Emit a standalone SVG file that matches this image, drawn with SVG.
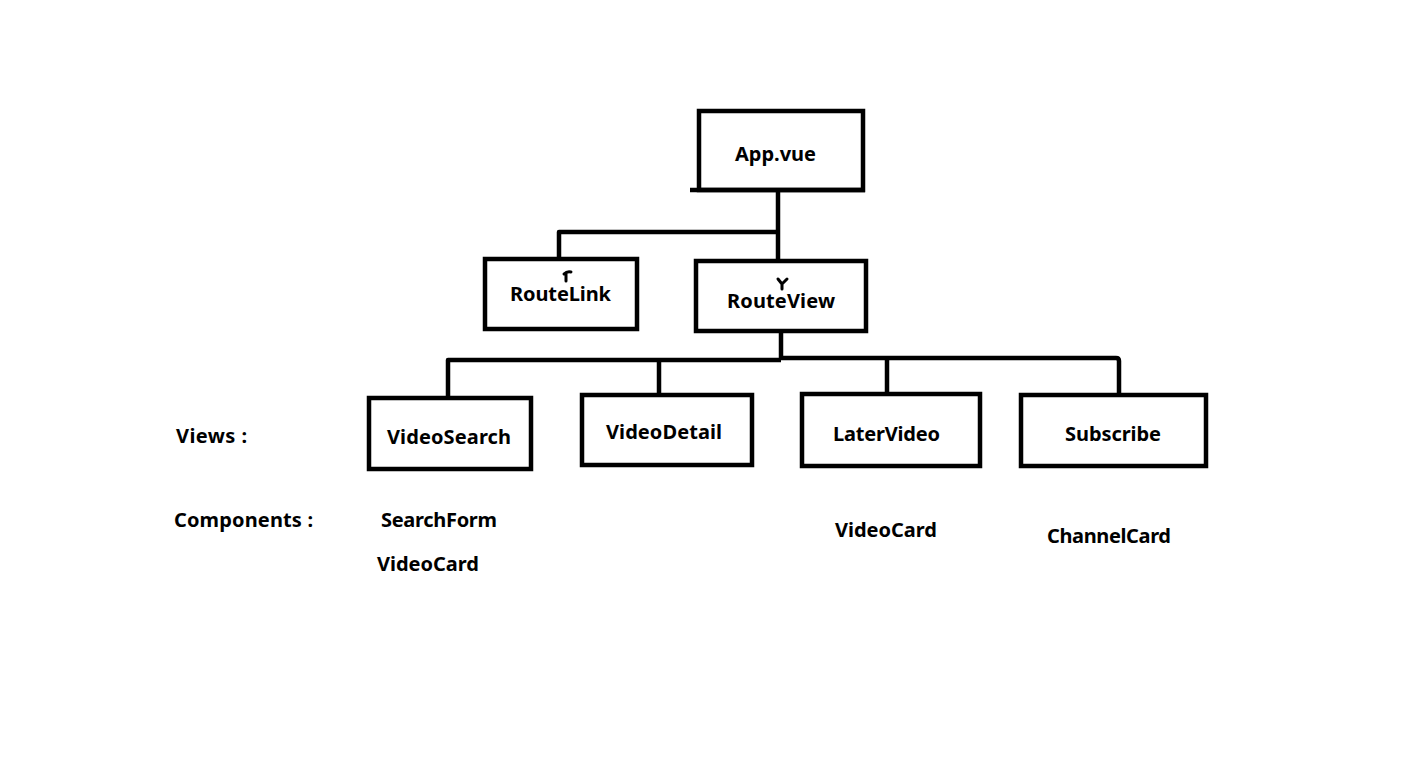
<svg xmlns="http://www.w3.org/2000/svg" width="1406" height="778" viewBox="0 0 1406 778">
<style>
.box{fill:none;stroke:#000;stroke-width:4.5}
.ln{fill:none;stroke:#000;stroke-width:4.5;stroke-linejoin:round}
.mk{fill:none;stroke:#000;stroke-width:3;stroke-linecap:round;stroke-linejoin:round}
text{font-family:"Noto Sans","Open Sans","DejaVu Sans",sans-serif;font-weight:bold;font-size:20px;fill:#000}
</style>
<rect width="1406" height="778" fill="#fff"/>
<g id="connectors">
<path class="ln" d="M778,191 V259"/>
<path class="ln" d="M778,232 H559 V257"/>
<path class="ln" d="M781,333 V358"/>
<path class="ln" d="M448,396 V360 H781"/>
<path class="ln" d="M781,358 H1116 Q1119,358 1119,361 V393"/>
<path class="ln" d="M659,360 V393"/>
<path class="ln" d="M887,358 V392"/>
</g>
<g id="app">
<rect class="box" x="699" y="111" width="164" height="79"/>
<path class="ln" d="M690,190 H865"/>
<text x="735" y="161" textLength="81">App.vue</text>
</g>
<g id="routelink">
<rect class="box" x="485" y="259" width="152" height="70"/>
<path class="mk" d="M564,274 Q567,271 571,272 M566,273 V281"/>
<text x="510" y="301" textLength="101">RouteLink</text>
</g>
<g id="routeview">
<rect class="box" x="696" y="261" width="170" height="70"/>
<path class="mk" d="M778,279 L782,284 L787,279 M782,284 V289"/>
<text x="727" y="308" textLength="108">RouteView</text>
</g>
<g id="views-label">
<text x="176" y="443" textLength="71">Views :</text>
</g>
<g id="videosearch">
<rect class="box" x="369" y="398" width="162" height="71"/>
<text x="387" y="444" textLength="124">VideoSearch</text>
</g>
<g id="videodetail">
<rect class="box" x="582" y="395" width="170" height="70"/>
<text x="606" y="439" textLength="116">VideoDetail</text>
</g>
<g id="latervideo">
<rect class="box" x="802" y="394" width="178" height="72"/>
<text x="833" y="441" textLength="107">LaterVideo</text>
</g>
<g id="subscribe">
<rect class="box" x="1021" y="395" width="185" height="71"/>
<text x="1065" y="441" textLength="96">Subscribe</text>
</g>
<g id="components-label">
<text x="174" y="527" textLength="139">Components :</text>
</g>
<g id="components">
<text x="381" y="527" textLength="116">SearchForm</text>
<text x="377" y="571" textLength="102">VideoCard</text>
<text x="835" y="537" textLength="102">VideoCard</text>
<text x="1047" y="543" textLength="124">ChannelCard</text>
</g>
</svg>
